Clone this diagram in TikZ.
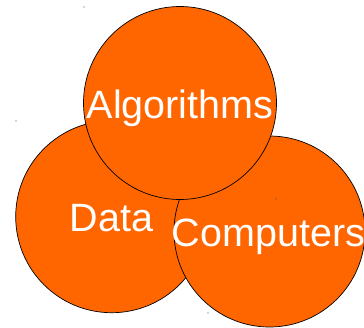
\documentclass[tikz,border=0pt]{standalone}
\usepackage{fontspec}
\setmainfont{Liberation Sans}
\definecolor{vorange}{RGB}{255,102,0}
\begin{document}
\begin{tikzpicture}[x=1pt,y=-1pt,
  venn/.style={circle,draw=black,line width=0.7pt,fill=vorange,inner sep=0pt,minimum size=#1},
  lbl/.style={text=white,anchor=base,inner sep=0pt,font=\fontsize{39.5}{42}\selectfont},
  speck/.style={fill=black!70,inner sep=0pt,minimum size=1.2pt,circle}]
\useasboundingbox (0,0) rectangle (364,327);
\node[venn=192pt] (data) at (111.7,216.7) {};
\node[venn=191pt] (comp) at (269.5,231.5) {};
\node[venn=193pt] (alg) at (180,103) {};
\node[lbl] (algt) at (180,118) {Algorithms};
\node[lbl] (datat) at (111.5,231) {Data};
\node[lbl] (compt) at (268.5,246.5) {Computers};
\node[speck] (s1) at (84,7) {};
\node[speck] (s2) at (16,121) {};
\node[speck] (s3) at (276,199) {};
\node[speck] (s4) at (208,313) {};
\end{tikzpicture}
\end{document}
